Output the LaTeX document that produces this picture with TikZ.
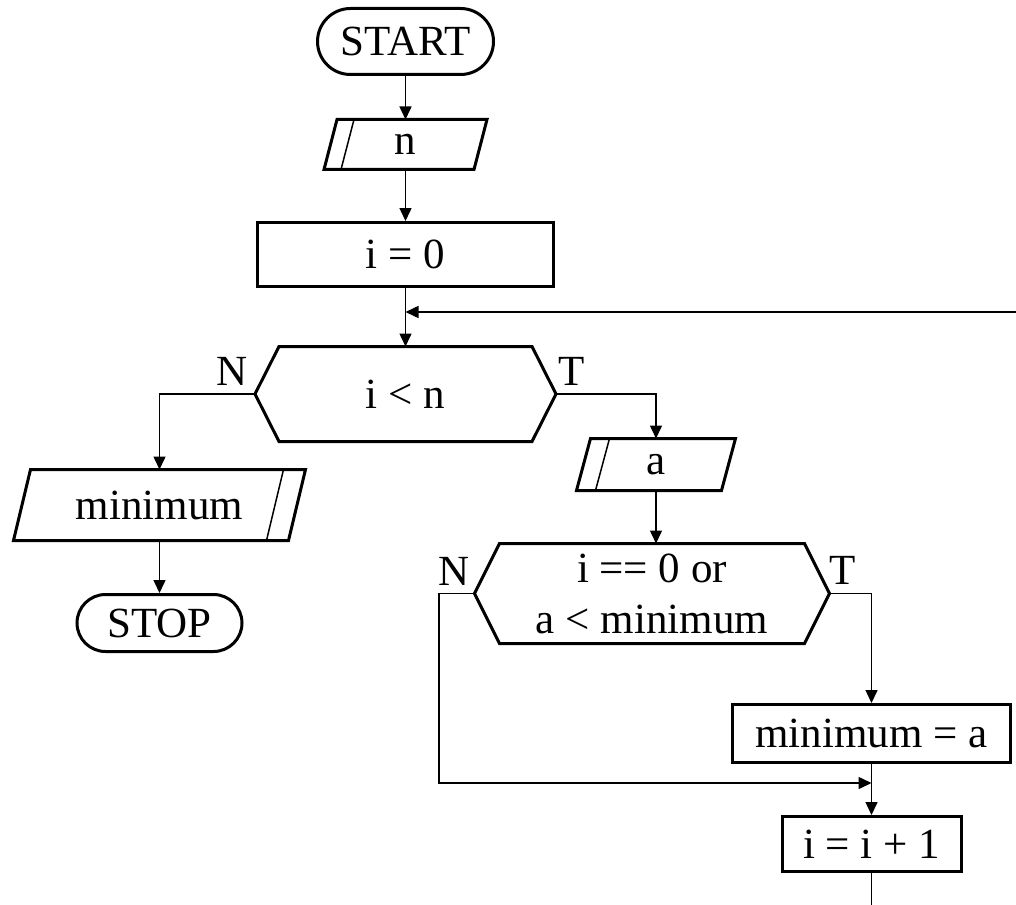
\documentclass[tikz,border=0pt]{standalone}
\usepackage{fontspec}
\setmainfont{Liberation Serif}
\usetikzlibrary{arrows.meta,shapes.misc}
\begin{document}
\begin{tikzpicture}[x=1pt,y=-1pt,
  shapeline/.style={line width=3pt},
  conn/.style={line width=1.5pt},
  arr/.style={conn,-{Triangle[length=13pt,width=12pt]}},
  txt/.style={font=\fontsize{43}{51}\selectfont, inner sep=0pt, align=center},
  lbl/.style={font=\fontsize{43}{51}\selectfont, inner sep=0pt},
  terminal/.style={txt, draw, shapeline, rounded rectangle},
  procbox/.style={txt, draw, shapeline, rectangle},
  ghost/.style={txt, outer sep=0pt}
]
\useasboundingbox (0,0) rectangle (1016,904);
\clip (0,0) rectangle (1016,904);
\fill[white] (0,0) rectangle (1016,904);

% nodes
\node[terminal, minimum width=176pt, minimum height=66pt] (start) at (405.5,41.5) {START};
\node[ghost, minimum width=150pt, minimum height=50pt] (n) at (405.5,144.5) {n};
\node[procbox, minimum width=296pt, minimum height=64pt] (i0) at (405.5,254.5) {i = 0};
\node[ghost, minimum width=301pt, minimum height=95pt] (d1) at (405.5,394) {i < n};
\node[ghost, minimum width=275pt, minimum height=71pt] (minp) at (159.5,505) {minimum};
\node[terminal, minimum width=165pt, minimum height=57pt] (stop) at (159.5,623) {STOP};
\node[ghost, minimum width=145pt, minimum height=52pt] (a) at (656,464.5) {a};
\node[ghost, minimum width=355pt, minimum height=100pt] (d2) at (652,593.5) {i == 0 or\\a < minimum};
\node[procbox, minimum width=278pt, minimum height=58pt] (mineq) at (871.5,733.5) {minimum = a};
\node[procbox, minimum width=179pt, minimum height=55pt] (inc) at (871.5,844) {i = i + 1};

% shapes drawn on ghost nodes
% input n
\draw[shapeline] ([xshift=6.5pt]n.north west) -- ([xshift=6.5pt]n.north east)
  -- ([xshift=-6.5pt]n.south east) -- ([xshift=-6.5pt]n.south west) -- cycle;
\draw[conn] ([xshift=23.5pt]n.north west) -- ([xshift=10.5pt]n.south west);
% decision i<n
\draw[shapeline] (d1.west) -- ([xshift=24pt]d1.north west) -- ([xshift=-24pt]d1.north east)
  -- (d1.east) -- ([xshift=-24pt]d1.south east) -- ([xshift=24pt]d1.south west) -- cycle;
% output minimum
\draw[shapeline] ([xshift=8.5pt]minp.north west) -- ([xshift=8.5pt]minp.north east)
  -- ([xshift=-8.5pt]minp.south east) -- ([xshift=-8.5pt]minp.south west) -- cycle;
\draw[conn] ([xshift=-13.5pt]minp.north east) -- ([xshift=-30.5pt]minp.south east);
% input a
\draw[shapeline] ([xshift=7pt]a.north west) -- ([xshift=7pt]a.north east)
  -- ([xshift=-7pt]a.south east) -- ([xshift=-7pt]a.south west) -- cycle;
\draw[conn] ([xshift=26pt]a.north west) -- ([xshift=12pt]a.south west);
% decision 2
\draw[shapeline] (d2.west) -- ([xshift=25pt]d2.north west) -- ([xshift=-25pt]d2.north east)
  -- (d2.east) -- ([xshift=-25pt]d2.south east) -- ([xshift=25pt]d2.south west) -- cycle;

% labels
\node[lbl, anchor=base east] (n1) at (248,385) {N};
\node[lbl, anchor=base west] (t1) at (558,385) {T};
\node[lbl, anchor=base east] (n2) at (470,585) {N};
\node[lbl, anchor=base west] (t2) at (829,584) {T};

% helper coordinates
\coordinate (j1) at (405.5,312);
\coordinate (j2) at (871.5,783);
\coordinate (c3) at (439,783);
\coordinate (c1) at (871.5,960);
\coordinate (c2) at (1080,312);

% connectors
\draw[arr] (start.south) -- (n.north);
\draw[arr] (n.south) -- (i0.north);
\draw[arr] (i0.south) -- (d1.north);
\draw[arr] (inc.south) -- (c1) -| (c2) -- (j1);
\draw[arr] (d1.west) -| (minp.north);
\draw[arr] (minp.south) -- (stop.north);
\draw[arr] (d1.east) -| (a.north);
\draw[arr] (a.south) -- (a.south |- d2.north);
\draw[arr] (d2.east) -| (mineq.north);
\draw[arr] (mineq.south) -- (inc.north);
\draw[arr] (d2.west) -| (c3) -- (j2);
\end{tikzpicture}
\end{document}
